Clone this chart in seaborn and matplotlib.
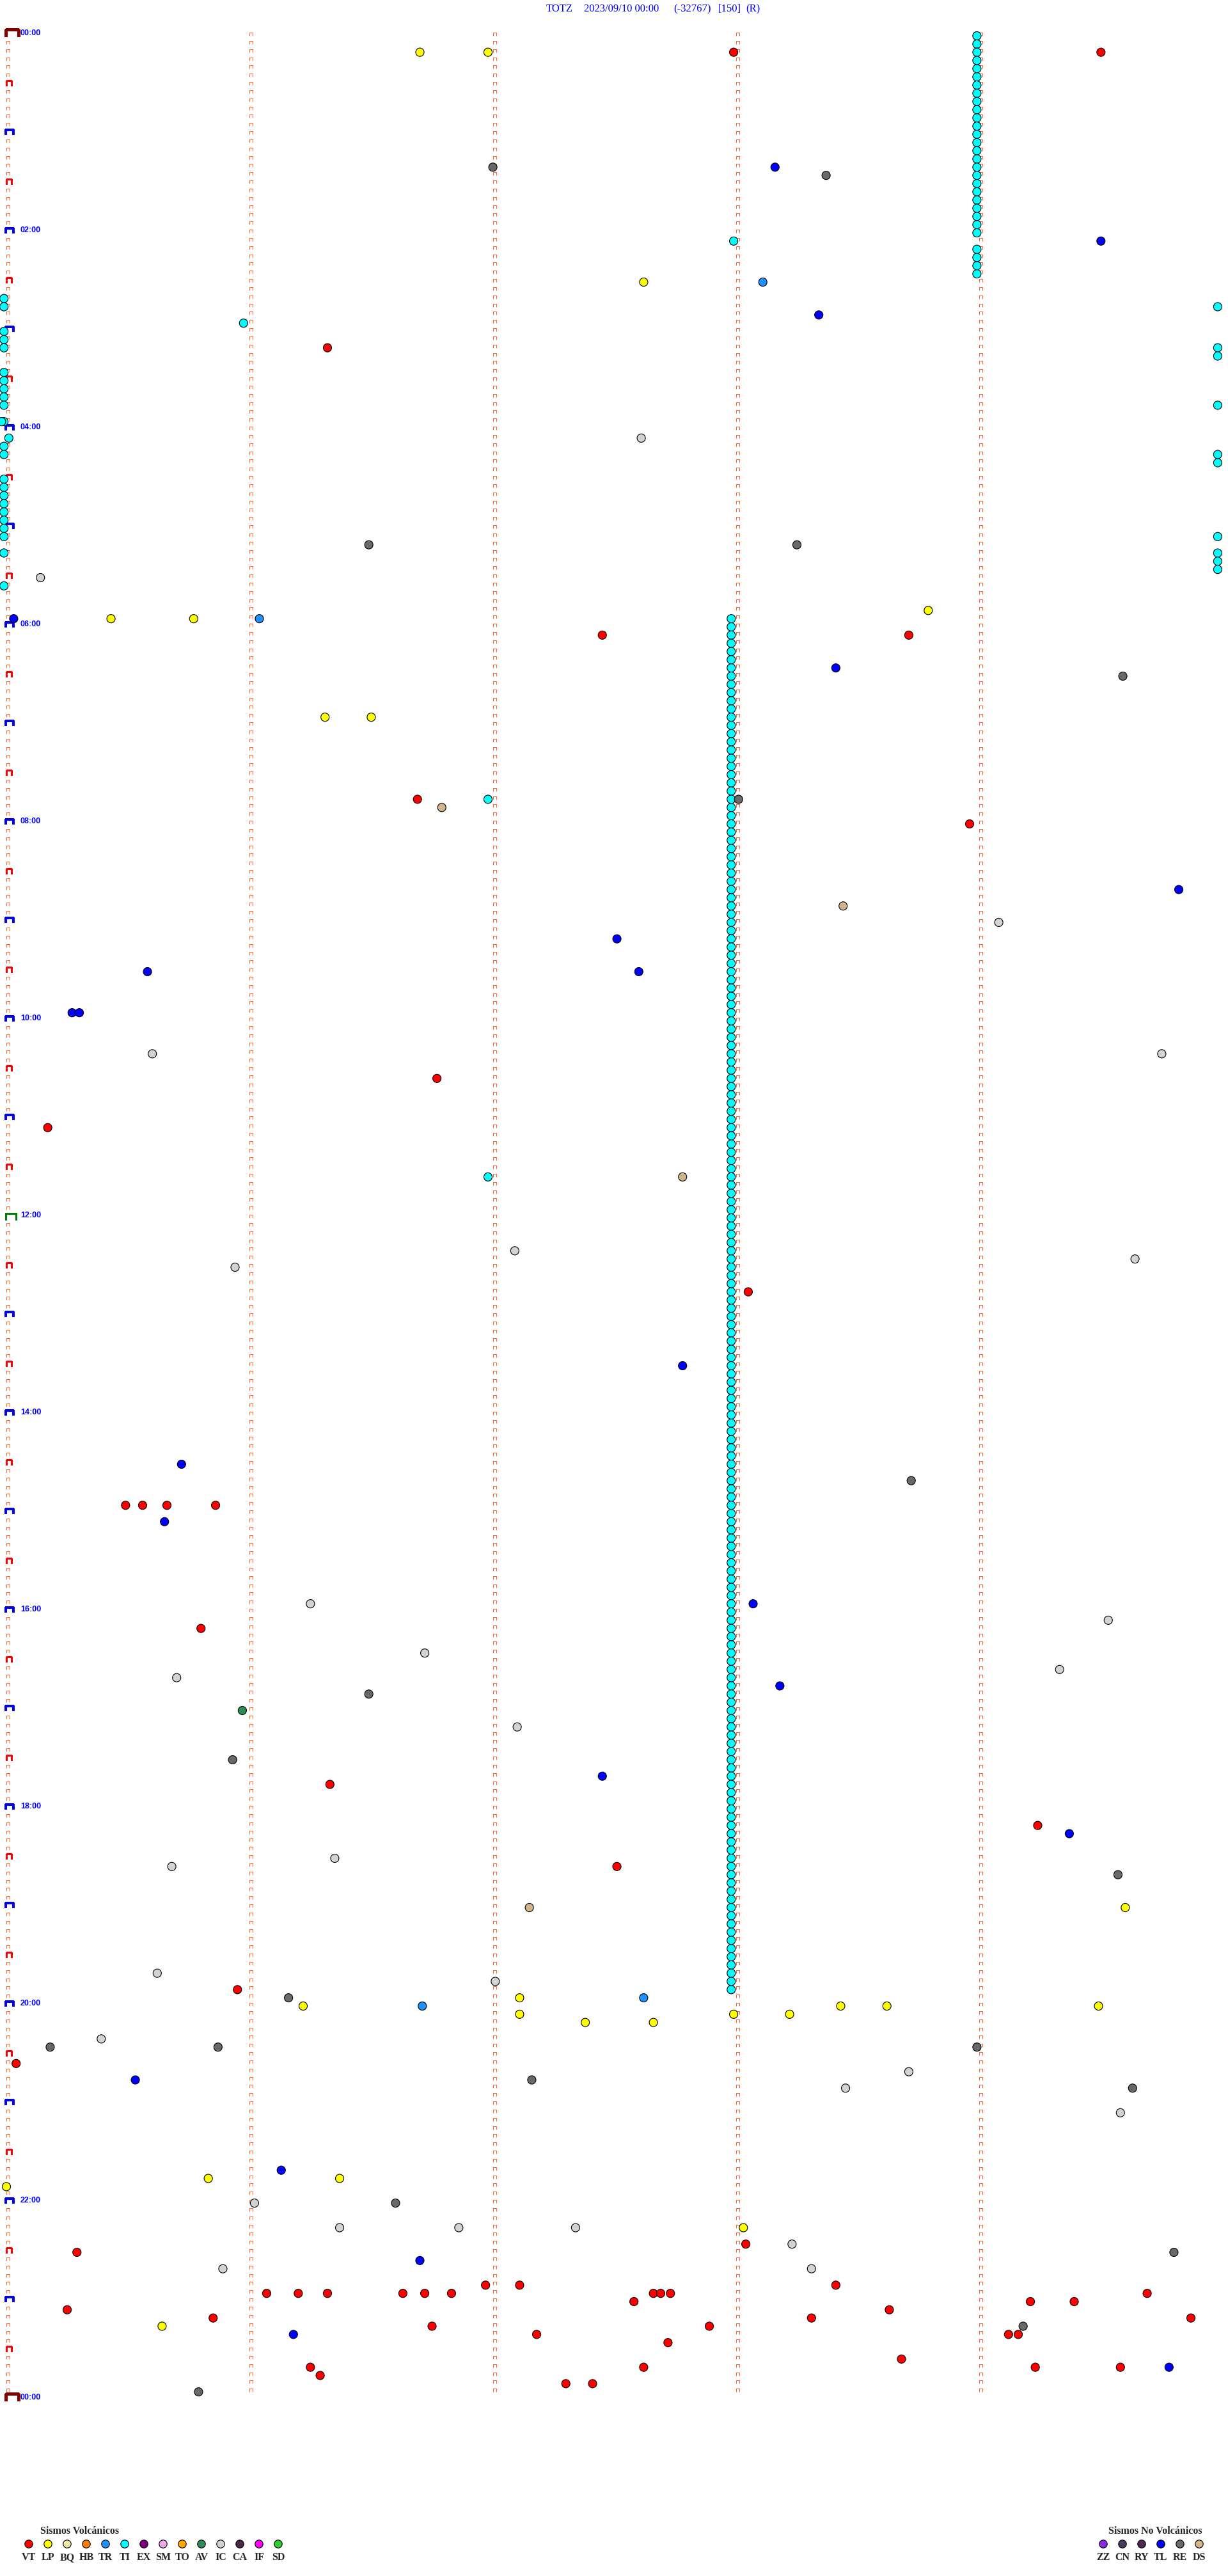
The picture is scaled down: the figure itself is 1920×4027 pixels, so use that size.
import numpy as np
import pandas as pd
import matplotlib
matplotlib.use("Agg")
import matplotlib.pyplot as plt
from matplotlib.collections import LineCollection
import seaborn as sns

sns.set_style("white")
plt.rcParams["font.family"] = ["Liberation Serif", "DejaVu Sans"]

# ---------------- data (time of 5-min row "HH:MM", minute within row 0..5) ----------------
vt_time = ["00:10", "00:10", "03:10", "06:05", "06:05", "07:45", "08:00", "10:35", "11:05", "12:45",
           "14:55", "14:55", "14:55", "14:55", "16:10", "17:45", "18:10", "18:35", "19:50", "20:35",
           "22:25", "22:30", "22:50", "22:50", "22:50",
           "22:55", "22:55", "22:55", "22:55", "22:55", "22:55", "22:55", "22:55", "22:55", "22:55",
           "23:00", "23:00", "23:00", "23:05", "23:05", "23:10", "23:10", "23:10", "23:15", "23:15",
           "23:20", "23:20", "23:20", "23:25", "23:35", "23:40", "23:40", "23:40", "23:40", "23:45",
           "23:50", "23:50"]
vt_min = [2.99, 4.50, 1.32, 2.45, 3.71, 1.69, 3.96, 1.77, 0.17, 3.05,
          0.49, 0.56, 0.66, 0.86, 0.80, 1.33, 4.24, 2.51, 0.95, 0.04,
          3.04, 0.29, 1.97, 2.11, 3.41,
          1.07, 1.20, 1.32, 1.63, 1.72, 1.83, 2.66, 2.69, 2.73, 4.69,
          2.58, 4.21, 4.39, 0.25, 3.63, 0.85, 3.31, 4.87, 1.75, 2.89,
          2.18, 4.12, 4.16, 2.72, 3.68, 1.25, 2.62, 4.23, 4.58, 1.29,
          2.30, 2.41]

lp_time = ["00:10", "00:10", "02:30", "05:50", "05:55", "05:55", "06:55", "06:55", "19:00", "19:55",
           "20:00", "20:00", "20:00", "20:00", "20:05", "20:05", "20:05", "20:10", "20:10",
           "21:45", "21:45", "21:50", "22:15", "23:15"]
lp_min = [1.70, 1.98, 2.62, 3.79, 0.43, 0.77, 1.31, 1.50, 4.60, 2.11,
          1.22, 3.43, 3.62, 4.49, 2.11, 2.99, 3.22, 2.38, 2.66,
          0.83, 1.37, 0.00, 3.03, 0.64]

tr_time = ["02:30", "05:55", "19:55", "20:00"]
tr_min = [3.11, 1.04, 2.62, 1.71]

# tremor (TI): consecutive 5-min slots flagged, given as runs (first slot, last slot, minute)
ti_runs = [("00:00", "02:00", 3.99), ("02:10", "02:25", 3.99), ("05:55", "19:50", 2.98)]
ti_time = ["02:05", "02:55", "07:45", "11:35",
           "02:40", "02:45", "03:00", "03:05", "03:10", "03:25", "03:30", "03:35", "03:40", "03:45",
           "03:55", "04:05", "04:10", "04:15", "04:30", "04:35", "04:40", "04:45", "04:50", "04:55",
           "05:00", "05:05", "05:15", "05:35",
           "02:45", "03:10", "03:15", "03:45", "04:15", "04:20", "05:05", "05:15", "05:20", "05:25"]
ti_min = [2.99, 0.975, 1.98, 1.98,
          -0.01, -0.01, -0.01, -0.01, -0.01, -0.01, -0.01, -0.01, -0.01, -0.01,
          -0.01, 0.01, -0.01, -0.01, -0.01, -0.01, -0.01, -0.01, -0.01, -0.01,
          -0.01, -0.01, -0.01, -0.01,
          4.98, 4.98, 4.98, 4.98, 4.98, 4.98, 4.98, 4.98, 4.98, 4.98]
ti_time_left_extra = ["03:55"]
ti_min_left_extra = [-0.02]

tl_time = ["01:20", "02:05", "02:50", "05:55", "06:25", "08:40", "09:10", "09:30", "09:30", "09:55",
           "09:55", "13:30", "14:30", "15:05", "15:55", "16:45", "17:40", "18:15", "20:45", "21:40",
           "22:35", "23:20", "23:40"]
tl_min = [3.16, 4.50, 3.34, 0.03, 3.41, 4.82, 2.51, 0.58, 2.60, 0.27,
          0.30, 2.78, 0.72, 0.65, 3.07, 3.18, 2.45, 4.37, 0.53, 1.13,
          1.70, 1.18, 4.78]

re_time = ["01:20", "01:25", "05:10", "05:10", "06:30", "07:45", "14:40", "16:50", "17:30", "18:40",
           "19:55", "20:25", "20:25", "20:25", "20:45", "20:50", "22:00", "22:30", "23:15", "23:55"]
re_min = [2.00, 3.37, 1.49, 3.25, 4.59, 3.01, 3.72, 1.49, 0.93, 4.57,
          1.16, 0.18, 0.87, 3.99, 2.16, 4.63, 1.60, 4.80, 4.18, 0.79]

ic_time = ["04:05", "05:30", "09:00", "10:20", "10:20", "12:20", "12:25", "12:30", "15:55", "16:05",
           "16:25", "16:35", "16:40", "17:10", "18:30", "18:35", "19:40", "19:45", "20:20", "20:40",
           "20:50", "21:05", "22:00", "22:15", "22:15", "22:15", "22:25", "22:40", "22:40"]
ic_min = [2.61, 0.14, 4.08, 0.60, 4.75, 2.09, 4.64, 0.94, 1.25, 4.53,
          1.72, 4.33, 0.70, 2.10, 1.35, 0.68, 0.62, 2.01, 0.39, 3.71,
          3.45, 4.58, 1.02, 1.37, 1.86, 2.34, 3.23, 0.89, 3.31]

ds_time = ["07:50", "08:50", "11:35", "19:00"]
ds_min = [1.79, 3.44, 2.78, 2.15]

av_time = ["17:00"]
av_min = [0.97]

volc_codes = ["VT", "LP", "BQ", "HB", "TR", "TI", "EX", "SM", "TO", "AV", "IC", "CA", "IF", "SD"]
nonvolc_codes = ["ZZ", "CN", "RY", "TL", "RE", "DS"]
colors = {"VT": "#ff0000", "LP": "#ffff00", "BQ": "#eee8aa", "HB": "#ff7f00", "TR": "#1e90ff",
          "TI": "#00ffff", "EX": "#800080", "SM": "#eeaaee", "TO": "#ffa500", "AV": "#2e8b57",
          "IC": "#d3d3d3", "CA": "#4b2a4b", "IF": "#ff00ff", "SD": "#32cd32",
          "ZZ": "#8a2be2", "CN": "#4a3a5c", "RY": "#4e2a4e", "TL": "#0000ff", "RE": "#696969",
          "DS": "#d2b48c"}

title_parts = ["TOTZ", "2023/09/10 00:00", "(-32767)", "[150]", "(R)"]
hour_labels = ["00:00", "02:00", "04:00", "06:00", "08:00", "10:00", "12:00", "14:00", "16:00",
               "18:00", "20:00", "22:00", "00:00"]

# ---------------- geometry ----------------
W, H = 1920, 4027
X0, XS = 10.0, 380.3      # px of minute 0 / px per minute
Y0, YS = 56.0, 154.0      # px of marker centre for 00:00 / px per hour
ROW = YS / 12.0


def t2h(s):
    hh, mm = s.split(":")
    return int(hh) + int(mm) / 60.0


def px2x(p):
    return (p - X0) / XS


def px2y(p):
    return (p - Y0) / YS


def expand_runs(runs):
    t, m = [], []
    for a, b, mm in runs:
        ra, rb = int(round(t2h(a) * 12)), int(round(t2h(b) * 12))
        for r in range(ra, rb + 1):
            t.append(r / 12.0)
            m.append(mm)
    return t, m


rows = []
tt, mm = expand_runs(ti_runs)
for h_, m_ in zip(tt, mm):
    rows.append(("TI", h_, m_))
for s, m_ in zip(ti_time + ti_time_left_extra, ti_min + ti_min_left_extra):
    rows.append(("TI", t2h(s), m_))
for code, tl, ml in [("IC", ic_time, ic_min), ("RE", re_time, re_min), ("DS", ds_time, ds_min),
                     ("AV", av_time, av_min), ("TR", tr_time, tr_min), ("LP", lp_time, lp_min),
                     ("TL", tl_time, tl_min), ("VT", vt_time, vt_min)]:
    for s, m_ in zip(tl, ml):
        rows.append((code, t2h(s), m_))
df = pd.DataFrame(rows, columns=["type", "hour", "minute"])

fig = plt.figure(figsize=(W / 100, H / 100), dpi=100)
ax = fig.add_axes([0, 0, 1, 1])
ax.set_xlim(px2x(0), px2x(W))
ax.set_ylim(px2y(H), px2y(0))
ax.axis("off")

# ---------------- bracket ticks ----------------
def bracket(xl, yt, w, h):
    return [(px2x(xl), px2y(yt + h)), (px2x(xl), px2y(yt)), (px2x(xl + w), px2y(yt)),
            (px2x(xl + w), px2y(yt + h))]

small = []
special = {"dr": [], "g": [], "b": [], "r": []}
for k in range(5):
    xl = X0 + XS * k
    nrows = 289 if k == 0 else 288
    for r in range(nrows):
        top = 51 + ROW * r
        if k == 0 and r in (0, 288):
            special["dr"].append(bracket(xl - 1, top - 5, 20, 11))
        elif k == 0 and r == 144:
            special["g"].append(bracket(xl - 1, top - 2, 16, 10))
        elif k == 0 and r % 12 == 0:
            special["b"].append(bracket(xl - 1, top - 2, 12, 8))
        elif k == 0 and r % 6 == 0:
            special["r"].append(bracket(xl, top - 2, 8, 8))
        else:
            small.append(bracket(xl, top, 5, 5))

ax.add_collection(LineCollection(small, colors="#ff4500", linewidths=0.6, antialiaseds=True))
ax.add_collection(LineCollection(special["r"], colors="#ff0000", linewidths=0.9, antialiaseds=False))
ax.add_collection(LineCollection(special["b"], colors="#0000ff", linewidths=1.6, antialiaseds=False))
ax.add_collection(LineCollection(special["g"], colors="#008000", linewidths=1.8, antialiaseds=False))
ax.add_collection(LineCollection(special["dr"], colors="#800000", linewidths=2.2, antialiaseds=False))

for i, lab in enumerate(hour_labels):
    r = i * 24
    ax.text(px2x(32), px2y(51 + ROW * r + 1), lab, color="#0000ff", fontsize=9,
            fontweight="bold", family=["Liberation Sans", "DejaVu Sans"], va="center", ha="left")

# ---------------- events ----------------
sns.scatterplot(data=df, x="minute", y="hour", hue="type", palette=colors, s=88,
                edgecolor="black", linewidth=0.8, legend=False, ax=ax, clip_on=False, zorder=3)

# ---------------- title ----------------
for txt, xp in zip(title_parts, [854, 913, 1053, 1123, 1166]):
    fig.text(xp / W, 1 - 14 / H, txt, color="#0000ff", fontsize=12, va="center", ha="left")

# ---------------- legends ----------------
def legend_block(codes, left_px, title, title_px):
    n = len(codes)
    lax = fig.add_axes([left_px / W, 1 - 4012 / H, 30 * n / W, 67 / H])
    lax.set_xlim(-0.5, n - 0.5)
    lax.set_ylim(67, 0)
    lax.axis("off")
    ldf = pd.DataFrame({"code": codes, "i": np.arange(n), "y": [32] * n})
    sns.scatterplot(data=ldf, x="i", y="y", hue="code", palette=colors, s=80, edgecolor="black",
                    linewidth=0.8, legend=False, ax=lax, clip_on=False)
    for i, c in enumerate(codes):
        lax.text(i, 53, c, ha="center", va="center", fontsize=11.5, fontweight="bold")
    lax.text((title_px - left_px) / 30 - 0.5, 12, title, ha="left", va="center", fontsize=11.5,
             fontweight="bold")

legend_block(volc_codes, 30, "Sismos Volcánicos", 63)
legend_block(nonvolc_codes, 1710, "Sismos No Volcánicos", 1733)

fig.savefig("out.png", dpi=100, facecolor="white")
